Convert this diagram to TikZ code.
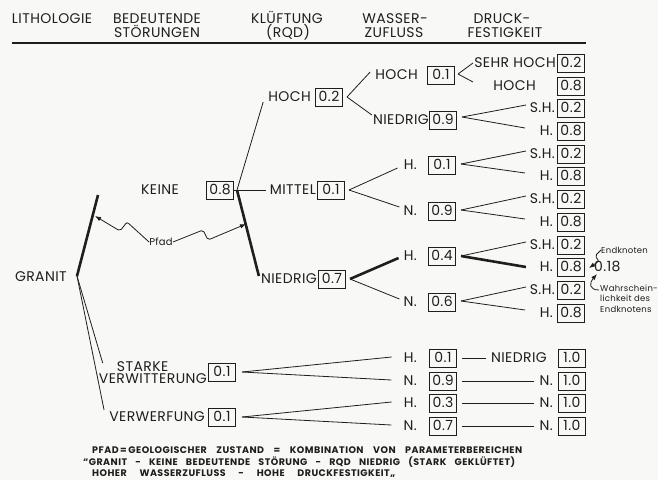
\documentclass[tikz,border=0pt]{standalone}
\usepackage{fontspec}
\setmainfont{Poppins}[LetterSpace=3]
\newfontfamily\capfont{Poppins}[LetterSpace=5]
\newfontfamily\smallfont{Poppins}[LetterSpace=3]
\usetikzlibrary{arrows.meta,calc}
\definecolor{ink}{HTML}{1E1E1E}
\definecolor{paper}{HTML}{F8F8F6}
\begin{document}
\begin{tikzpicture}[x=1pt,y=-1pt,
  lbl/.style={inner sep=0pt, font=\fontsize{14}{14}\selectfont, text height=9.8pt, text depth=0pt, text=ink},
  lblml/.style={inner sep=0pt, font=\fontsize{14}{12.5}\selectfont, text=ink, align=left},
  hd/.style={lbl},
  pbox/.style={lbl, draw=ink, line width=1pt, minimum width=27pt, minimum height=18pt, inner xsep=1pt},
  thinln/.style={draw=ink, line width=0.8pt},
  thickln/.style={draw=ink, line width=2.6pt},
  smalltxt/.style={inner sep=0pt, font=\smallfont\fontsize{8.5}{10.2}\selectfont, text=ink},
  captxt/.style={inner sep=0pt, font=\capfont\bfseries\fontsize{9.5}{9.5}\selectfont, text height=6.7pt, text depth=0pt, text=ink},
  parr/.style={thinln, -{Latex[length=6pt,width=4.5pt]}, rounded corners=2pt},
]
\fill[paper] (0,0) rectangle (658,480);
\useasboundingbox (0,0) rectangle (658,480);

% ---------- header
\node[hd] (hLith) at (52,19) {LITHOLOGIE};
\node[hd] (hStA) at (157,19) {BEDEUTENDE};
\node[hd] (hStB) at (157,33) {STÖRUNGEN};
\node[hd] (hKlA) at (287,19) {KLÜFTUNG};
\node[hd] (hKlB) at (288,33) {(RQD)};
\node[hd] (hWaA) at (395,19) {WASSER-};
\node[hd] (hWaB) at (394,33) {ZUFLUSS};
\node[hd] (hDrA) at (502,19) {DRUCK-};
\node[hd] (hDrB) at (505,33) {FESTIGKEIT};
\coordinate (ruleL) at (12,43);
\coordinate (ruleR) at (586,43);
\draw[ink, line width=1.2pt] (ruleL) -- (ruleR);

% ---------- lithologie
\node[lbl, anchor=east] (granit) at (67,277) {GRANIT};

% ---------- stoerungen
\node[lbl] (keine) at (160,190) {KEINE};
\node[pbox] (pKeine) at (220,190) {0.8};
\node[lblml, anchor=north east] (sv) at (207,361) {\hspace*{18pt}STARKE\\VERWITTERUNG};
\node[pbox] (pSV) at (222,372) {0.1};
\node[lbl, anchor=east] (vw) at (205,417) {VERWERFUNG};
\node[pbox] (pVW) at (222,417) {0.1};

\coordinate (g0) at (77,276);
\coordinate (gK) at (98,195);
\draw[thickln] (g0) -- (gK);
\draw[thinln] (g0) -- ($(sv.north west)+(4,2)$);
\draw[thinln] (g0) -- ($(vw.west)+(-5,-7)$);

% ---------- kluftung
\node[lbl, anchor=east] (kHoch) at (311,97) {HOCH};
\node[pbox] (pKHoch) at (329,97) {0.2};
\node[lbl, anchor=east] (kMittel) at (316,190) {MITTEL};
\node[pbox] (pKMittel) at (331,190) {0.1};
\node[lbl, anchor=east] (kNiedrig) at (317,279) {NIEDRIG};
\node[pbox] (pKNiedrig) at (332,279) {0.7};

\coordinate (k0) at (237,190);
\draw[thinln] (pKeine.east) -- ($(kMittel.west)+(-4,0)$);
\draw[thinln] (k0) -- ($(kHoch.south west)+(-5,0)$);
\draw[thickln] (k0) -- ($(kNiedrig.west)+(-2,-3)$);

% ---------- wasserzufluss
\node[pbox] (pW1) at (441,75) {0.1};
\node[lbl, anchor=east] (w1) at (418,75) {HOCH};
\node[pbox] (pW2) at (443,120) {0.9};
\node[lbl, anchor=east] (w2) at (429,120) {NIEDRIG};
\node[pbox] (pW3) at (442,165) {0.1};
\node[lbl, anchor=east] (w3) at (417,165) {H.};
\node[pbox] (pW4) at (442,211) {0.9};
\node[lbl, anchor=east] (w4) at (417,211) {N.};
\node[pbox] (pW5) at (442,256) {0.4};
\node[lbl, anchor=east] (w5) at (417,256) {H.};
\node[pbox] (pW6) at (442,302) {0.6};
\node[lbl, anchor=east] (w6) at (417,302) {N.};
\node[pbox] (pW7) at (443,358) {0.1};
\node[lbl, anchor=east] (w7) at (417,358) {H.};
\node[pbox] (pW8) at (443,381) {0.9};
\node[lbl, anchor=east] (w8) at (417,381) {N.};
\node[pbox] (pW9) at (443,403) {0.3};
\node[lbl, anchor=east] (w9) at (417,403) {H.};
\node[pbox] (pW10) at (443,426) {0.7};
\node[lbl, anchor=east] (w10) at (417,426) {N.};

% kluftung -> wasser
\coordinate (vKH) at ($(pKHoch.east)+(4,0)$);
\draw[thinln] (vKH) -- ($(w1.west)+(-5,-3)$);
\draw[thinln] (vKH) -- ($(w2.west)+(-1,-5)$);
\coordinate (vKM) at ($(pKMittel.east)+(4,0)$);
\draw[thinln] (vKM) -- ($(w3.west)+(-6,3)$);
\draw[thinln] (vKM) -- ($(w4.west)+(-4,-4)$);
\coordinate (vKN) at ($(pKNiedrig.east)+(4,0)$);
\draw[thickln] (vKN) -- ($(w5.west)+(-5,2)$);
\draw[thinln] (vKN) -- ($(w6.west)+(-4,-3)$);

% stoerungen -> wasser
\coordinate (vSV) at ($(pSV.east)+(6,0)$);
\draw[thinln] (vSV) -- ($(w7.west)+(-12,-1)$);
\draw[thinln] (vSV) -- ($(w8.west)+(-12,-1)$);
\coordinate (vVW) at ($(pVW.east)+(6,0)$);
\draw[thinln] (vVW) -- ($(w9.west)+(-12,-1)$);
\draw[thinln] (vVW) -- ($(w10.west)+(-12,-1)$);

% ---------- druckfestigkeit
\node[pbox] (pD1) at (571,63) {0.2};
\node[lbl, anchor=east] (d1) at (556,63) {SEHR HOCH};
\node[pbox] (pD2) at (571,86) {0.8};
\node[lbl, anchor=east] (d2) at (536,86) {HOCH};
\node[pbox] (pD3) at (571,108) {0.2};
\node[lbl, anchor=east] (d3) at (555,108) {S.H.};
\node[pbox] (pD4) at (571,131) {0.8};
\node[lbl, anchor=east] (d4) at (553,131) {H.};
\node[pbox] (pD5) at (571,154) {0.2};
\node[lbl, anchor=east] (d5) at (555,154) {S.H.};
\node[pbox] (pD6) at (571,176) {0.8};
\node[lbl, anchor=east] (d6) at (553,176) {H.};
\node[pbox] (pD7) at (571,199) {0.2};
\node[lbl, anchor=east] (d7) at (555,199) {S.H.};
\node[pbox] (pD8) at (571,222) {0.8};
\node[lbl, anchor=east] (d8) at (553,222) {H.};
\node[pbox] (pD9) at (571,245) {0.2};
\node[lbl, anchor=east] (d9) at (555,245) {S.H.};
\node[pbox] (pD10) at (571,267) {0.8};
\node[lbl, anchor=east] (d10) at (553,267) {H.};
\node[pbox] (pD11) at (571,290) {0.2};
\node[lbl, anchor=east] (d11) at (555,290) {S.H.};
\node[pbox] (pD12) at (571,313) {0.8};
\node[lbl, anchor=east] (d12) at (553,313) {H.};
\node[pbox] (pD14) at (572,358) {1.0};
\node[lbl, anchor=east] (d14) at (547,358) {NIEDRIG};
\node[pbox] (pD15) at (572,381) {1.0};
\node[lbl, anchor=east] (d15) at (553,381) {N.};
\node[pbox] (pD16) at (572,403) {1.0};
\node[lbl, anchor=east] (d16) at (553,403) {N.};
\node[pbox] (pD17) at (572,426) {1.0};
\node[lbl, anchor=east] (d17) at (553,426) {N.};

% wasser -> druck
\coordinate (vW1) at ($(pW1.east)+(3,-1)$);
\draw[thinln] (vW1) -- ($(vW1)+(15,-11)$);
\draw[thinln] (vW1) -- ($(vW1)+(15,8)$);
\coordinate (vW2) at ($(pW2.east)+(5,-3)$);
\draw[thinln] (vW2) -- ($(d3.east)+(-29,-3)$);
\draw[thinln] (vW2) -- ($(d4.east)+(-28,-3)$);
\coordinate (vW3) at ($(pW3.east)+(5,-1)$);
\draw[thinln] (vW3) -- ($(d5.east)+(-29,-3)$);
\draw[thinln] (vW3) -- ($(d6.east)+(-28,-3)$);
\coordinate (vW4) at ($(pW4.east)+(5,-1)$);
\draw[thinln] (vW4) -- ($(d7.east)+(-29,-3)$);
\draw[thinln] (vW4) -- ($(d8.east)+(-28,-3)$);
\coordinate (vW5) at ($(pW5.east)+(5,0)$);
\draw[thinln] (vW5) -- ($(d9.east)+(-29,-3)$);
\draw[thickln] (vW5) -- ($(d10.east)+(-27,0)$);
\coordinate (vW6) at ($(pW6.east)+(5,-1)$);
\draw[thinln] (vW6) -- ($(d11.east)+(-29,-3)$);
\draw[thinln] (vW6) -- ($(d12.east)+(-28,-3)$);
\draw[thinln] ($(pW7.east)+(5,0)$) -- ($(d14.west)+(-5,0)$);
\draw[thinln] ($(pW8.east)+(5,0)$) -- ($(d15.west)+(-5,0)$);
\draw[thinln] ($(pW9.east)+(5,0)$) -- ($(d16.west)+(-5,0)$);
\draw[thinln] ($(pW10.east)+(5,0)$) -- ($(d17.west)+(-5,0)$);

% ---------- Pfad
\node[smalltxt, font=\smallfont\fontsize{10}{10}\selectfont] (pfad) at (161,242) {Pfad};
\draw[parr] (pfad.west) -- (127,222) -- (120,231) -- (95,216);
\draw[parr] (pfad.east) -- (203,230) -- (208,240) -- (246,224);

% ---------- Endknoten
\node[smalltxt, anchor=west] (endk) at (601,250) {Endknoten};
\node[lbl, anchor=west] (p018) at (594,267) {0.18};
\node[smalltxt, anchor=north west, align=left] (wahr) at (600,285) {Wahrschein-\\lichkeit des\\Endknotens};
\draw[parr] (endk.west) -- (595,256) -- (599,261) -- ($(pD10.east)+(4,1)$);
\draw[thinln, -{Latex[length=6pt,width=4.5pt]}] ($(wahr.north west)+(-1,5)$) .. controls (589,290) and (589,283) .. ($(p018.south west)+(3,2)$);

% ---------- caption
\node[captxt, anchor=west] (cap1) at (92,450) {\makebox[430pt][s]{PFAD\,=\,GEOLOGISCHER ZUSTAND = KOMBINATION VON PARAMETERBEREICHEN}};
\node[captxt, anchor=west] (cap2) at (83,462) {\makebox[432pt][s]{“GRANIT - KEINE BEDEUTENDE STÖRUNG - RQD NIEDRIG (STARK GEKLÜFTET)}};
\node[captxt, anchor=west] (cap3) at (92,473) {\makebox[303pt][s]{HOHER WASSERZUFLUSS - HOHE DRUCKFESTIGKEIT„}};
\end{tikzpicture}
\end{document}
